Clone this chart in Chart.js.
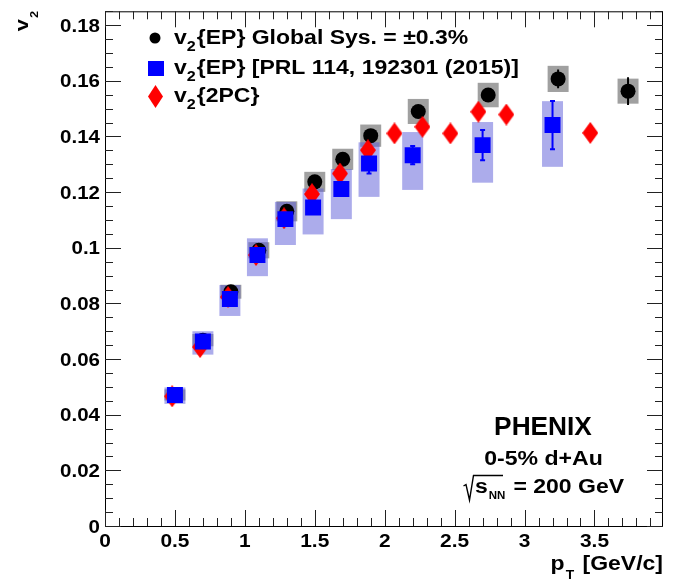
<!DOCTYPE html>
<html>
<head>
<meta charset="utf-8">
<script src="https://cdn.jsdelivr.net/npm/chart.js@4.4.1/dist/chart.umd.min.js"></script>
<style>
  html, body { margin: 0; padding: 0; background: #fff; }
  canvas { display: block; }
</style>
</head>
<body>
<canvas id="c" width="692" height="583"></canvas>
<script>
// v2{EP}, this analysis (black circles, grey sys boxes)
const ptEP = [0.5, 0.7, 0.9, 1.1, 1.3, 1.5, 1.7, 1.9, 2.24, 2.74, 3.24, 3.74]
const v2EP = [0.0471, 0.0668, 0.0842, 0.0991, 0.1131, 0.1237, 0.1318, 0.1403, 0.149, 0.1549, 0.1607, 0.1563]
const statEP = [0.001, 0.001, 0.001, 0.001, 0.001, 0.001, 0.0012, 0.0013, 0.0015, 0.0022, 0.0034, 0.005]
const sysEP = [0.002, 0.0022, 0.0025, 0.0029, 0.0036, 0.0036, 0.0038, 0.004, 0.0045, 0.0044, 0.0047, 0.0045]

// v2{EP} PRL 114, 192301 (blue squares, asymmetric sys boxes)
const ptPRL = [0.5, 0.7, 0.893, 1.09, 1.29, 1.488, 1.69, 1.888, 2.2, 2.7, 3.2]
const v2PRL = [0.0471, 0.0663, 0.0816, 0.0974, 0.1103, 0.1145, 0.1211, 0.1303, 0.1333, 0.1369, 0.1441]
const statPRL = [0.0008, 0.001, 0.0012, 0.0014, 0.0016, 0.0018, 0.0022, 0.0036, 0.0033, 0.0054, 0.0087]
const sysPRLup = [0.0027, 0.0037, 0.005, 0.006, 0.0062, 0.0068, 0.0072, 0.0076, 0.0083, 0.0083, 0.0086]
const sysPRLdn = [0.0032, 0.0047, 0.0061, 0.0076, 0.0093, 0.0097, 0.0108, 0.012, 0.0125, 0.0135, 0.015]

// v2{2PC} (red diamonds)
const pt2PC = [0.48, 0.68, 0.88, 1.08, 1.28, 1.48, 1.68, 1.88, 2.07, 2.27, 2.47, 2.67, 2.87, 3.47]
const v22PC = [0.0466, 0.0643, 0.0823, 0.0974, 0.1106, 0.1193, 0.1267, 0.1351, 0.1411, 0.1435, 0.1411, 0.1489, 0.1479, 0.1413]

const FONT = '"Liberation Sans", Arial, Helvetica, sans-serif'
const BOX_HALF = 0.075

function makeDiamond(w, h, color) {
  const c = document.createElement('canvas')
  c.width = w
  c.height = h
  const g = c.getContext('2d')
  g.fillStyle = color
  g.beginPath()
  g.moveTo(w / 2, 0)
  g.lineTo(w, h / 2)
  g.lineTo(w / 2, h)
  g.lineTo(0, h / 2)
  g.closePath()
  g.fill()
  return c
}

// text with optional horizontal stretch, sub/superscript segments
function rich(ctx, segs, x, y, sx) {
  let cx = x
  segs.forEach(s => {
    ctx.font = `bold ${s.size}px ${FONT}`
    ctx.save()
    ctx.translate(cx, y + (s.dy || 0))
    ctx.scale(sx, 1)
    ctx.fillText(s.t, 0, 0)
    ctx.restore()
    cx += ctx.measureText(s.t).width * sx + (s.gap || 0)
  })
  return cx
}
function richWidth(ctx, segs, sx) {
  let w = 0
  segs.forEach(s => {
    ctx.font = `bold ${s.size}px ${FONT}`
    w += ctx.measureText(s.t).width * sx + (s.gap || 0)
  })
  return w
}
const fmt = v => String(+v.toFixed(4))

const rootStyle = {
  id: 'rootStyle',
  beforeDatasetsDraw(chart) {
    const { ctx, chartArea: a, scales: { x, y } } = chart
    ctx.save()
    ctx.beginPath()
    ctx.rect(a.left, a.top, a.right - a.left, a.bottom - a.top)
    ctx.clip()
    // grey sys boxes
    ctx.fillStyle = '#a0a0a0'
    ptEP.forEach((p, i) => {
      const x0 = x.getPixelForValue(p - BOX_HALF), x1 = x.getPixelForValue(p + BOX_HALF)
      const y0 = y.getPixelForValue(v2EP[i] + sysEP[i]), y1 = y.getPixelForValue(v2EP[i] - sysEP[i])
      ctx.fillRect(x0, y0, x1 - x0, y1 - y0)
    })
    // blue sys boxes (translucent)
    ctx.fillStyle = 'rgba(89,89,215,0.5)'
    ptPRL.forEach((p, i) => {
      const x0 = x.getPixelForValue(p - BOX_HALF), x1 = x.getPixelForValue(p + BOX_HALF)
      const y0 = y.getPixelForValue(v2PRL[i] + sysPRLup[i]), y1 = y.getPixelForValue(v2PRL[i] - sysPRLdn[i])
      ctx.fillRect(x0, y0, x1 - x0, y1 - y0)
    })
    // stat error bars
    ctx.lineWidth = 2
    ctx.strokeStyle = '#000'
    ptEP.forEach((p, i) => {
      const px = x.getPixelForValue(p)
      ctx.beginPath()
      ctx.moveTo(px, y.getPixelForValue(v2EP[i] + statEP[i]))
      ctx.lineTo(px, y.getPixelForValue(v2EP[i] - statEP[i]))
      ctx.stroke()
    })
    ctx.strokeStyle = '#0000ff'
    ptPRL.forEach((p, i) => {
      const px = x.getPixelForValue(p)
      const yt = y.getPixelForValue(v2PRL[i] + statPRL[i]), yb = y.getPixelForValue(v2PRL[i] - statPRL[i])
      ctx.beginPath()
      ctx.moveTo(px, yt)
      ctx.lineTo(px, yb)
      ctx.moveTo(px - 2.5, yt)
      ctx.lineTo(px + 2.5, yt)
      ctx.moveTo(px - 2.5, yb)
      ctx.lineTo(px + 2.5, yb)
      ctx.stroke()
    })
    ctx.restore()
  },
  afterDatasetsDraw(chart) {
    const { ctx, chartArea: a, scales: { x, y } } = chart
    ctx.save()
    // frame
    ctx.strokeStyle = '#000'
    ctx.lineWidth = 1
    ctx.strokeRect(a.left + 0.5, a.top + 0.5, a.right - a.left - 1, a.bottom - a.top)

    // ticks on all four sides, pointing inwards
    ctx.strokeStyle = '#222'
    ctx.beginPath()
    const xMaj = x.ticks.map(t => t.value)
    const xStep = xMaj[1] - xMaj[0]
    for (let k = 0; k * xStep / 5 <= x.max + 1e-9; k++) {
      const v = k * xStep / 5
      const px = Math.round(x.getPixelForValue(v)) + 0.5
      const len = k % 5 === 0 ? 16 : 8
      ctx.moveTo(px, a.bottom); ctx.lineTo(px, a.bottom - len)
      ctx.moveTo(px, a.top); ctx.lineTo(px, a.top + len)
    }
    const yMaj = y.ticks.map(t => t.value)
    const yStep = yMaj[1] - yMaj[0]
    for (let k = 0; k * yStep / 4 <= y.max + 1e-9; k++) {
      const v = k * yStep / 4
      const py = Math.round(y.getPixelForValue(v)) + 0.5
      const len = k % 4 === 0 ? 16 : 8
      ctx.moveTo(a.left, py); ctx.lineTo(a.left + len, py)
      ctx.moveTo(a.right, py); ctx.lineTo(a.right - len, py)
    }
    ctx.stroke()

    // tick labels
    ctx.fillStyle = '#000'
    ctx.textBaseline = 'alphabetic'
    y.ticks.forEach(t => {
      const segs = [{ t: fmt(t.value), size: 18 }]
      const w = richWidth(ctx, segs, 1.14)
      rich(ctx, segs, 100 - w, y.getPixelForValue(t.value) + 6.5, 1.14)
    })
    x.ticks.forEach(t => {
      const segs = [{ t: fmt(t.value), size: 19 }]
      const w = richWidth(ctx, segs, 1.1)
      rich(ctx, segs, x.getPixelForValue(t.value) - w / 2, 547, 1.1)
    })

    // axis titles
    const xt = [{ t: 'p', size: 20, gap: 1 }, { t: 'T', size: 12, dy: 9, gap: 2 }, { t: ' [GeV/c]', size: 20 }]
    rich(ctx, xt, a.right - richWidth(ctx, xt, 1.15), 570, 1.15)
    ctx.save()
    ctx.translate(28, 11)
    ctx.rotate(-Math.PI / 2)
    const yt = [{ t: 'v', size: 19, gap: 1 }, { t: '2', size: 11, dy: 10 }]
    rich(ctx, yt, -richWidth(ctx, yt, 1.15), 0, 1.15)
    ctx.restore()

    // legend
    ctx.fillStyle = '#000'
    ctx.beginPath()
    ctx.arc(155, 38, 5.5, 0, Math.PI * 2)
    ctx.fill()
    ctx.fillStyle = '#0000ff'
    ctx.fillRect(148, 61, 16, 15)
    ctx.drawImage(makeDiamond(15, 23, '#ff0000'), 148, 85)
    ctx.fillStyle = '#000'
    const sub = { t: '2', size: 14, dy: 7, gap: 1 }
    rich(ctx, [{ t: 'v', size: 20 }, sub, { t: '{EP} Global Sys. = \u00b10.3%', size: 20 }], 174, 44, 1.15)
    rich(ctx, [{ t: 'v', size: 20 }, sub, { t: '{EP} [PRL 114, 192301 (2015)]', size: 20 }], 174, 73.5, 1.15)
    rich(ctx, [{ t: 'v', size: 20 }, sub, { t: '{2PC}', size: 20 }], 174, 102, 1.15)

    // experiment label
    const l1 = [{ t: 'PHENIX', size: 26 }]
    rich(ctx, l1, 543 - richWidth(ctx, l1, 1.01) / 2, 435, 1.01)
    const l2 = [{ t: '0-5% d+Au', size: 21 }]
    rich(ctx, l2, 543.5 - richWidth(ctx, l2, 1.1) / 2, 465, 1.1)
    ctx.lineWidth = 1.4
    ctx.strokeStyle = '#000'
    ctx.beginPath()
    ctx.moveTo(463.5, 486)
    ctx.lineTo(466, 484.5)
    ctx.lineTo(469.5, 500)
    ctx.lineTo(473.5, 475.5)
    ctx.lineTo(503, 475.5)
    ctx.stroke()
    rich(ctx, [{ t: 's', size: 20, gap: 1 }, { t: 'NN', size: 10, dy: 6, gap: 8 }, { t: '= 200 GeV', size: 20 }], 475, 493, 1.15)
    ctx.restore()
  }
}

new Chart(document.getElementById('c'), {
  type: 'scatter',
  data: {
    datasets: [
      {
        label: 'v2{EP} Global Sys. = ±0.3%',
        data: ptEP.map((p, i) => ({ x: p, y: v2EP[i] })),
        pointStyle: 'circle',
        pointRadius: 7.5,
        backgroundColor: '#000',
        borderWidth: 0,
        order: 3
      },
      {
        label: 'v2{2PC}',
        data: pt2PC.map((p, i) => ({ x: p, y: v22PC[i] })),
        pointStyle: makeDiamond(16, 22, '#ff0000'),
        pointRadius: 8,
        backgroundColor: '#ff0000',
        borderWidth: 0,
        order: 2
      },
      {
        label: 'v2{EP} [PRL 114, 192301 (2015)]',
        data: ptPRL.map((p, i) => ({ x: p, y: v2PRL[i] })),
        pointStyle: 'rect',
        pointRadius: 11.3,
        backgroundColor: '#0000ff',
        borderWidth: 0,
        order: 1
      }
    ]
  },
  options: {
    responsive: false,
    animation: false,
    events: [],
    layout: { padding: { left: 105, right: 29, top: 11, bottom: 57 } },
    plugins: { legend: { display: false }, tooltip: { enabled: false } },
    scales: {
      x: { type: 'linear', min: 0, max: 3.99, display: false, ticks: { stepSize: 0.5, includeBounds: false } },
      y: { type: 'linear', min: 0, max: 0.185, display: false, ticks: { stepSize: 0.02, includeBounds: false } }
    }
  },
  plugins: [rootStyle]
})
</script>
</body>
</html>
